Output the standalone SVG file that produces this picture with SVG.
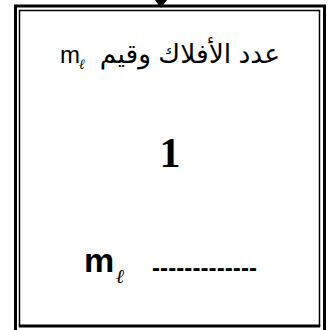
<svg xmlns="http://www.w3.org/2000/svg" width="330" height="330" viewBox="0 0 330 330">
<style>
.ar{font-family:"Liberation Sans","DejaVu Sans",Arial,sans-serif;font-size:26.5px;fill:#000}
.lat{font-family:"Liberation Sans",Arial,sans-serif;fill:#000}
.ell{font-family:"Liberation Serif","DejaVu Serif",serif;font-style:italic;fill:#000}
.num{font-family:"Liberation Serif","Times New Roman",serif;font-weight:bold;font-size:42px;fill:#000}
.thick{stroke:#000;stroke-width:3;fill:none}
.thin{stroke:#000;stroke-width:1.5;fill:none}
</style>
<g id="connectors">
<polygon points="155,0 167,0 161,8" fill="#000"/>
</g>
<g id="box">
<path class="thick" d="M15.5,331 V6 H324.5 V331"/>
<path class="thin" d="M19.5,326 V10.5 H319.5 V326"/>
<line class="thick" x1="18.75" y1="326" x2="320.25" y2="326"/>
<text class="ar" x="280" y="63" text-anchor="start" direction="rtl">عدد الأفلاك وقيم</text>
<text class="lat" x="60" y="63" font-size="24">m</text>
<text class="ell" x="79" y="69" font-size="14">ℓ</text>
<text class="num" x="170" y="167" text-anchor="middle">1</text>
<text class="lat" x="84" y="272" font-size="34" font-weight="bold">m</text>
<text class="ell" x="116" y="283" font-size="20" font-weight="bold">ℓ</text>
<text class="lat" x="152" y="276" font-size="24" font-weight="bold" textLength="105" lengthAdjust="spacing">-------------</text>
</g>
</svg>
